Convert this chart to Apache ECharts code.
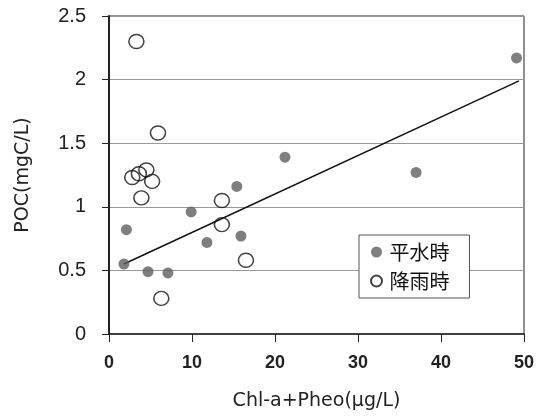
<!DOCTYPE html>
<html>
<head>
<meta charset="utf-8">
<script src="https://cdn.jsdelivr.net/npm/echarts@6/dist/echarts.min.js"></script>
<style>html,body{margin:0;padding:0;background:#fff}#c{width:544px;height:417px}</style>
</head>
<body>
<div id="c"></div>
<script>
// 平水時 (filled)
var normalX = [1.8, 2.1, 4.7, 7.1, 9.9, 11.8, 15.4, 15.9, 21.2, 37.0, 49.1];
var normalY = [0.55, 0.82, 0.49, 0.48, 0.96, 0.72, 1.16, 0.77, 1.39, 1.27, 2.17];
// 降雨時 (open)
var rainX = [3.3, 5.9, 2.8, 3.6, 4.5, 5.2, 3.9, 13.6, 13.6, 16.5, 6.3];
var rainY = [2.30, 1.58, 1.23, 1.26, 1.29, 1.20, 1.07, 1.05, 0.86, 0.58, 0.28];
// trend line endpoints
var trendX = [1.8, 49.4];
var trendY = [0.55, 1.99];
var seriesNames = ['平水時', '降雨時'];
var xName = 'Chl-a+Pheo(μg/L)';
var yName = 'POC(mgC/L)';

function pairs(xs, ys) { return xs.map(function (x, i) { return [x, ys[i]]; }); }

var chart = echarts.init(document.getElementById('c'), null, {renderer: 'canvas'});
var font = '"Liberation Sans", "Noto Sans CJK JP", sans-serif';
var nameFont = '"DejaVu Sans", sans-serif';
chart.setOption({
  animation: false,
  backgroundColor: '#fff',
  grid: {left: 109, right: 20, top: 16, bottom: 83, show: true, borderColor: '#222', borderWidth: 1},
  legend: {
    data: seriesNames,
    orient: 'vertical',
    left: 359, top: 235,
    padding: [6, 20, 6, 11],
    itemGap: 7,
    itemWidth: 16, itemHeight: 11,
    borderColor: '#555', borderWidth: 1,
    backgroundColor: '#fff',
    textStyle: {fontFamily: '"Noto Sans CJK JP", sans-serif', fontSize: 20, color: '#111', lineHeight: 22}
  },
  xAxis: {
    type: 'value', min: 0, max: 50, interval: 10,
    name: xName, nameLocation: 'middle', nameGap: 58,
    nameTextStyle: {fontFamily: nameFont, fontSize: 19, color: '#222'},
    axisLine: {show: true, onZero: false, lineStyle: {color: '#222', width: 1.5}},
    axisTick: {show: true, inside: false, length: 8, lineStyle: {color: '#222'}},
    axisLabel: {margin: 20, fontFamily: font, fontSize: 18, fontWeight: 'bold', color: '#222'},
    splitLine: {show: false}
  },
  yAxis: {
    type: 'value', min: 0, max: 2.5, interval: 0.5,
    name: yName, nameLocation: 'middle', nameGap: 76, nameRotate: 90,
    nameTextStyle: {fontFamily: nameFont, fontSize: 19, color: '#222'},
    axisLine: {show: true, onZero: false, lineStyle: {color: '#222', width: 2}},
    axisTick: {show: true, inside: false, length: 7, lineStyle: {color: '#222'}},
    axisLabel: {margin: 23, fontFamily: font, fontSize: 20, color: '#222'},
    splitLine: {show: true, lineStyle: {color: '#999', width: 1}}
  },
  series: [
    {
      name: seriesNames[0], type: 'scatter', symbol: 'circle', symbolSize: 11,
      itemStyle: {color: '#5f5f5f'},
      data: pairs(normalX, normalY), z: 3
    },
    {
      name: seriesNames[1], type: 'scatter', symbol: 'circle', symbolSize: [15, 14],
      itemStyle: {color: 'rgba(255,255,255,0)', borderColor: '#111', borderWidth: 1.5},
      data: pairs(rainX, rainY), z: 3
    },
    {
      name: 'trend', type: 'line', showSymbol: false, symbol: 'none',
      lineStyle: {color: '#111', width: 1.5},
      data: pairs(trendX, trendY), z: 2
    }
  ]
});
</script>
</body>
</html>
